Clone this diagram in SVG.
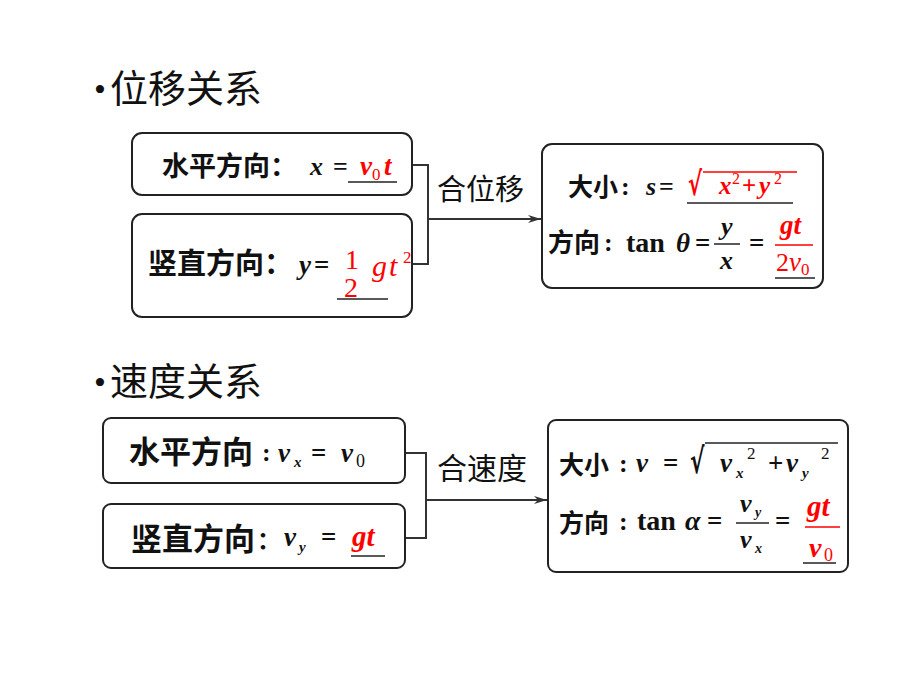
<svg xmlns="http://www.w3.org/2000/svg" width="920" height="690" viewBox="0 0 920 690">
<defs>
<marker id="arr" markerWidth="14" markerHeight="10" refX="13" refY="5" orient="auto" markerUnits="userSpaceOnUse">
<path d="M0,1 L13,5 L0,9 L4,5 Z" fill="#333"/>
</marker>
<style>
.box{fill:#fff;stroke:#222;stroke-width:2}
.cn{font-family:"Noto Sans CJK SC","Noto Sans",sans-serif;fill:#111}
.cb{font-family:"Noto Sans CJK SC","Noto Sans",sans-serif;font-weight:bold;fill:#111}
.m{font-family:"Liberation Serif",serif;font-style:italic;font-weight:bold;fill:#111}
.mu{font-family:"Liberation Serif",serif;font-weight:bold;fill:#111}
.r{fill:#f00}
.rn{font-family:"Liberation Serif",serif;fill:#f00}
.rad{font-family:"DejaVu Sans",sans-serif;font-weight:bold}
.ul{stroke:#222;stroke-width:1.5}
.rl{stroke:#f00;stroke-width:1.5}
.bl{stroke:#222;stroke-width:1.5}
.con{fill:none;stroke:#333;stroke-width:2}
</style>
</defs>
<rect width="920" height="690" fill="#fff"/>

<g id="title1">
<text x="94" y="101" font-family="Liberation Serif,serif" font-size="34" fill="#111">•</text>
<text x="110" y="102" class="cn" font-size="38">位移关系</text>
</g>

<g id="title2">
<text x="94" y="394" font-family="Liberation Serif,serif" font-size="34" fill="#111">•</text>
<text x="110" y="395" class="cn" font-size="38">速度关系</text>
</g>

<g id="connectors">
<polyline class="con" points="412,165 428,165 428,264 412,264"/>
<line class="con" x1="428" y1="219" x2="541" y2="219" marker-end="url(#arr)"/>
<polyline class="con" points="405,453 426,453 426,538 405,538"/>
<line class="con" x1="426" y1="500" x2="547" y2="500" marker-end="url(#arr)"/>
<text x="437" y="200" class="cn" font-size="29">合位移</text>
<text x="437" y="479" class="cn" font-size="30">合速度</text>
</g>

<g id="n-horiz-disp">
<rect class="box" x="132" y="133" width="280" height="62" rx="10"/>
<text x="162" y="176" class="cb" font-size="27">水平方向：</text>
<text x="310" y="175" class="m" font-size="26">x</text>
<text x="333" y="175" class="mu" font-size="26">=</text>
<text x="360" y="175" class="m r" font-size="27">v</text>
<text x="372" y="180" class="rn" font-size="17">0</text>
<text x="384" y="175" class="m r" font-size="27">t</text>
<line class="ul" x1="348" y1="182" x2="397" y2="182"/>
</g>

<g id="n-vert-disp">
<rect class="box" x="132" y="214" width="280" height="103" rx="10"/>
<text x="148" y="274" class="cb" font-size="29">竖直方向：</text>
<text x="299" y="274" class="m" font-size="27">y</text>
<text x="314" y="274" class="mu" font-size="27">=</text>
<text x="345" y="269" class="rn" font-size="28">1</text>
<text x="344" y="297" class="rn" font-size="28">2</text>
<text x="372" y="276" class="rn" font-size="30" font-style="italic" letter-spacing="2">gt</text>
<text x="403" y="263" class="rn" font-size="17">2</text>
<line class="ul" x1="337" y1="299" x2="388" y2="299"/>
</g>

<g id="n-disp-result">
<rect class="box" x="542" y="144" width="281" height="144" rx="10"/>
<text x="568" y="196" class="cb" font-size="25">大小</text>
<text x="621" y="195" class="mu" font-size="26">:</text>
<text x="646" y="195" class="m" font-size="26">s</text>
<text x="659" y="195" class="mu" font-size="26">=</text>
<text transform="translate(688,195) scale(0.75,1.15)" class="rad" font-size="28" fill="#f00">√</text>
<line class="rl" x1="703" y1="172" x2="797" y2="172"/>
<text x="719" y="194" class="m r" font-size="25">x</text>
<text x="732" y="184" class="rn" font-size="16">2</text>
<text x="742" y="194" class="rn" font-size="25" font-weight="bold">+</text>
<text x="759" y="194" class="m r" font-size="25">y</text>
<text x="774" y="184" class="rn" font-size="16">2</text>
<line class="ul" x1="687" y1="203" x2="793" y2="203"/>

<text x="548" y="252" class="cb" font-size="26">方向</text>
<text x="604" y="251" class="mu" font-size="26">:</text>
<text x="626" y="252" class="mu" font-size="28">tan</text>
<text x="676" y="252" class="m" font-size="27">θ</text>
<text x="695" y="252" class="mu" font-size="27">=</text>
<text x="721" y="235" class="m" font-size="26">y</text>
<line class="bl" x1="714" y1="244" x2="740" y2="244"/>
<text x="720" y="269" class="m" font-size="26">x</text>
<text x="749" y="252" class="mu" font-size="27">=</text>
<text x="780" y="234" class="m r" font-size="27">gt</text>
<line class="rl" x1="775" y1="245" x2="813" y2="245"/>
<text x="776" y="271" class="rn" font-size="26">2</text>
<text x="789" y="271" class="rn" font-size="27" font-style="italic">v</text>
<text x="801" y="275" class="rn" font-size="17">0</text>
<line class="ul" x1="775" y1="278" x2="815" y2="278"/>
</g>

<g id="n-horiz-vel">
<rect class="box" x="103" y="418" width="302" height="65" rx="8"/>
<text x="129" y="463" class="cb" font-size="31">水平方向</text>
<text x="262" y="461" class="mu" font-size="26">:</text>
<text x="278" y="462" class="m" font-size="27">v</text>
<text x="294" y="467" class="m" font-size="15">x</text>
<text x="311" y="462" class="mu" font-size="27">=</text>
<text x="341" y="462" class="m" font-size="27">v</text>
<text x="356" y="467" font-family="Liberation Serif,serif" font-size="18" fill="#111">0</text>
</g>

<g id="n-vert-vel">
<rect class="box" x="103" y="504" width="302" height="64" rx="8"/>
<text x="131" y="550" class="cb" font-size="31">竖直方向</text>
<text x="257" y="549" class="cb" font-size="24">：</text>
<text x="284" y="546" class="m" font-size="27">v</text>
<text x="299" y="552" class="m" font-size="15">y</text>
<text x="321" y="546" class="mu" font-size="27">=</text>
<text x="352" y="546" class="m r" font-size="29">gt</text>
<line class="ul" x1="351" y1="556" x2="385" y2="556"/>
</g>

<g id="n-vel-result">
<rect class="box" x="548" y="420" width="300" height="152" rx="8"/>
<text x="559" y="474" class="cb" font-size="25">大小</text>
<text x="619" y="472" class="mu" font-size="26">:</text>
<text x="636" y="472" class="m" font-size="27">v</text>
<text x="663" y="472" class="mu" font-size="27">=</text>
<text transform="translate(690,473) scale(0.75,1.2)" class="rad" font-size="29" fill="#111">√</text>
<line class="bl" x1="705" y1="443" x2="838" y2="443"/>
<text x="720" y="472" class="m" font-size="27">v</text>
<text x="736" y="478" class="m" font-size="15">x</text>
<text x="747" y="459" font-family="Liberation Serif,serif" font-size="17" fill="#111">2</text>
<text x="768" y="472" class="mu" font-size="27">+</text>
<text x="786" y="472" class="m" font-size="27">v</text>
<text x="802" y="478" class="m" font-size="15">y</text>
<text x="821" y="459" font-family="Liberation Serif,serif" font-size="17" fill="#111">2</text>

<text x="559" y="532" class="cb" font-size="25">方向</text>
<text x="619" y="530" class="mu" font-size="26">:</text>
<text x="637" y="530" class="mu" font-size="28">tan</text>
<text x="685" y="530" class="m" font-size="28">α</text>
<text x="707" y="530" class="mu" font-size="27">=</text>
<text x="740" y="512" class="m" font-size="26">v</text>
<text x="755" y="517" class="m" font-size="14">y</text>
<line class="bl" x1="736" y1="523" x2="769" y2="523"/>
<text x="740" y="548" class="m" font-size="26">v</text>
<text x="755" y="553" class="m" font-size="14">x</text>
<text x="775" y="530" class="mu" font-size="27">=</text>
<text x="807" y="516" class="m r" font-size="29">gt</text>
<line class="rl" x1="805" y1="527" x2="840" y2="527"/>
<text x="809" y="557" class="m r" font-size="28">v</text>
<text x="824" y="561" class="rn" font-size="18">0</text>
<line class="ul" x1="803" y1="563" x2="836" y2="563"/>
</g>
</svg>
